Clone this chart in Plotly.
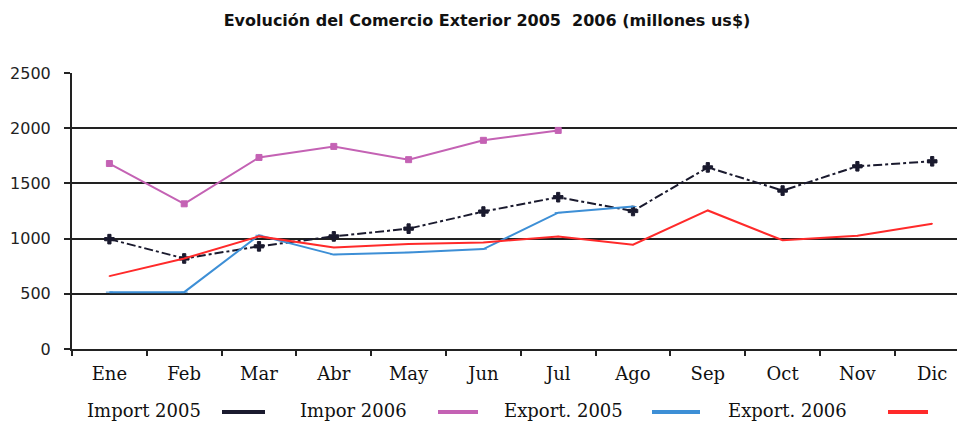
import plotly.graph_objects as go

months = ["Ene", "Feb", "Mar", "Abr", "May", "Jun", "Jul", "Ago", "Sep", "Oct", "Nov", "Dic"]
import_2005 = [995, 820, 930, 1020, 1090, 1245, 1375, 1250, 1645, 1435, 1655, 1700]
impor_2006 = [1680, 1315, 1735, 1835, 1715, 1890, 1980]
export_2005 = [515, 515, 1030, 855, 875, 905, 1235, 1290]
export_2006 = [660, 820, 1020, 920, 950, 965, 1020, 945, 1255, 985, 1025, 1135]
y_ticks = [0, 500, 1000, 1500, 2000, 2500]

series = [
    ("Import 2005", import_2005, "#1a1a2e", "dashdot", "cross", 8),
    ("Impor 2006", impor_2006, "#C462B4", "solid", "square", 6),
    ("Export. 2005", export_2005, "#3D8FD6", "solid", "line-ew", 5),
    ("Export. 2006", export_2006, "#FF2A2A", "solid", "line-ew", 1),
]

fig = go.Figure()
for name, vals, color, dash, sym, msize in series:
    fig.add_trace(go.Scatter(
        x=months[:len(vals)], y=vals, name=name, mode="lines+markers",
        line=dict(color=color, width=2, dash=dash),
        marker=dict(symbol=sym, size=msize, color=color,
                    line=dict(color=color, width=1)),
        showlegend=False,
    ))

W, H = 957, 425
L, T, B = 72, 73, 76
plot_w = W - L
plot_h = H - T - B
cat_w = 74.8
x_hi = -0.5 + plot_w / cat_w

fig.update_layout(
    width=W, height=H,
    margin=dict(l=L, r=0, t=T, b=B, autoexpand=False),
    paper_bgcolor="white", plot_bgcolor="white",
    title=dict(text="<b>Evolución del Comercio Exterior 2005  2006 (millones us$)</b>",
               x=487 / W, xanchor="center", y=1 - 20 / H, yanchor="middle",
               font=dict(family="DejaVu Sans, Arial", size=16, color="#111")),
    xaxis=dict(
        type="category", categoryorder="array", categoryarray=months,
        range=[-0.5, x_hi], showgrid=False, zeroline=False, automargin=False,
        showline=True, linecolor="#222", linewidth=2,
        ticks="outside", ticklen=5, tickwidth=2, tickcolor="#222",
        tickson="boundaries", ticklabelstandoff=7,
        tickfont=dict(family="DejaVu Serif, Liberation Serif", size=18, color="#111"),
    ),
    yaxis=dict(
        range=[0, 2500], tickvals=y_ticks, showgrid=True, gridcolor="#222", gridwidth=2,
        zeroline=False, showline=True, linecolor="#222", linewidth=2, automargin=False,
        ticks="outside", ticklen=6, tickwidth=2, tickcolor="#222",
        ticklabelstandoff=10,
        tickfont=dict(family="DejaVu Sans, Arial", size=16, color="#222"),
    ),
)

# Manual legend in the bottom margin: text followed by line sample
legend_items = [
    ("Import 2005", "#1a1a2e", 85, 222, 265),
    ("Impor 2006", "#C462B4", 298, 438, 478),
    ("Export. 2005", "#3D8FD6", 502, 652, 700),
    ("Export. 2006", "#FF2A2A", 726, 888, 928),
]
ly = 410
for text, color, tx, x0, x1 in legend_items:
    fig.add_annotation(
        xref="paper", yref="paper",
        x=(tx - L) / plot_w, y=(H - B - ly) / plot_h,
        text=text, showarrow=False, xanchor="left", yanchor="middle",
        font=dict(family="DejaVu Serif, Liberation Serif", size=18, color="#111"),
    )
    fig.add_shape(
        type="line", xref="paper", yref="paper",
        x0=(x0 - L) / plot_w, x1=(x1 - L) / plot_w,
        y0=(H - B - ly - 2) / plot_h, y1=(H - B - ly - 2) / plot_h,
        line=dict(color=color, width=4),
    )

fig.write_html("out.html", config={"displayModeBar": False},
               post_script="document.body.style.margin='0';document.body.style.overflow='hidden';")
